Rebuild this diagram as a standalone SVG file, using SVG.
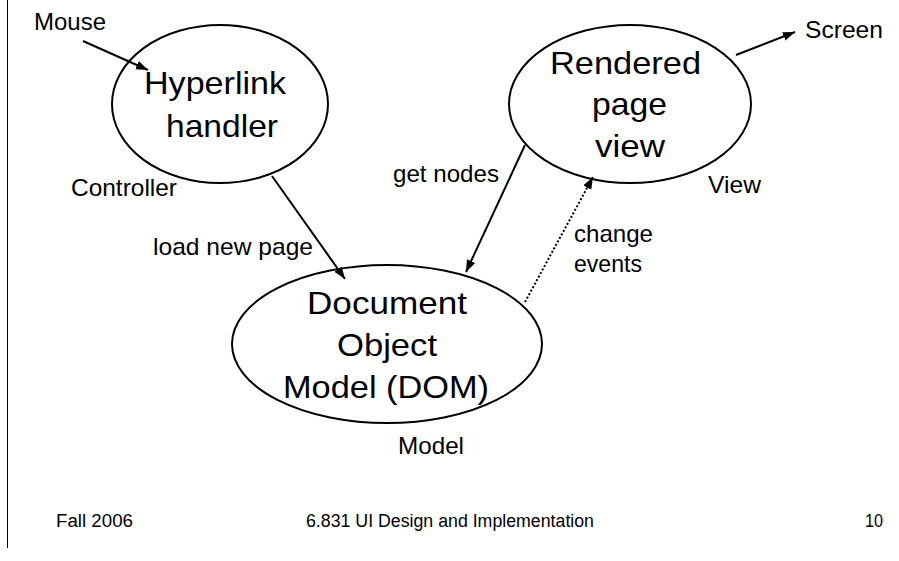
<svg xmlns="http://www.w3.org/2000/svg" width="899" height="561" viewBox="0 0 899 561">
<defs>
<style>
text{font-family:"Liberation Sans",Arial,Helvetica,sans-serif;fill:#000}
.big{font-size:32px}
.lbl{font-size:24px}
.ft{font-size:18px}
.shape{fill:#fff;stroke:#000;stroke-width:2}
.conn line{stroke:#000;stroke-width:2;fill:none}
.dot{stroke-dasharray:2 2}
</style>
<marker id="ah" markerUnits="userSpaceOnUse" markerWidth="13" markerHeight="10" refX="12" refY="4.5" orient="auto">
<path d="M0,0 L12,4.5 L0,9 z" fill="#000"/>
</marker>
</defs>
<rect width="899" height="561" fill="#fff"/>
<line x1="7.5" y1="0" x2="7.5" y2="548" stroke="#000" stroke-width="1"/>

<g id="hyperlink">
<ellipse class="shape" cx="220" cy="104" rx="108" ry="79"/>
<text class="big" x="144" y="94" textLength="142" lengthAdjust="spacingAndGlyphs">Hyperlink</text>
<text class="big" x="166" y="137" textLength="112" lengthAdjust="spacingAndGlyphs">handler</text>
</g>

<g id="rendered">
<ellipse class="shape" cx="630" cy="104" rx="121" ry="79"/>
<text class="big" x="550" y="74" textLength="151" lengthAdjust="spacingAndGlyphs">Rendered</text>
<text class="big" x="592" y="115" textLength="75" lengthAdjust="spacingAndGlyphs">page</text>
<text class="big" x="595" y="157" textLength="70" lengthAdjust="spacingAndGlyphs">view</text>
</g>

<g id="dom">
<ellipse class="shape" cx="387" cy="344" rx="155" ry="79"/>
<text class="big" x="307" y="314" textLength="160" lengthAdjust="spacingAndGlyphs">Document</text>
<text class="big" x="337" y="356" textLength="100" lengthAdjust="spacingAndGlyphs">Object</text>
<text class="big" x="283" y="398" textLength="206" lengthAdjust="spacingAndGlyphs">Model (DOM)</text>
</g>

<g id="connectors" class="conn">
<line x1="83" y1="41" x2="148" y2="70" marker-end="url(#ah)"/>
<line x1="272" y1="176" x2="345" y2="279" marker-end="url(#ah)"/>
<line x1="525" y1="145" x2="466" y2="272" marker-end="url(#ah)"/>
<line class="dot" x1="525" y1="302" x2="593" y2="177" marker-end="url(#ah)"/>
<line x1="736" y1="55" x2="795" y2="32" marker-end="url(#ah)"/>
</g>

<g id="labels">
<text class="lbl" x="34" y="30" textLength="72" lengthAdjust="spacingAndGlyphs">Mouse</text>
<text class="lbl" x="71" y="196" textLength="106" lengthAdjust="spacingAndGlyphs">Controller</text>
<text class="lbl" x="153" y="255" textLength="160" lengthAdjust="spacingAndGlyphs">load new page</text>
<text class="lbl" x="393" y="182" textLength="106" lengthAdjust="spacingAndGlyphs">get nodes</text>
<text class="lbl" x="574" y="242" textLength="79" lengthAdjust="spacingAndGlyphs">change</text>
<text class="lbl" x="574" y="272" textLength="68" lengthAdjust="spacingAndGlyphs">events</text>
<text class="lbl" x="805" y="38" textLength="78" lengthAdjust="spacingAndGlyphs">Screen</text>
<text class="lbl" x="708" y="193" textLength="53" lengthAdjust="spacingAndGlyphs">View</text>
<text class="lbl" x="398" y="454" textLength="66" lengthAdjust="spacingAndGlyphs">Model</text>
</g>

<g id="footer">
<text class="ft" x="56" y="527" textLength="77" lengthAdjust="spacingAndGlyphs">Fall 2006</text>
<text class="ft" x="306" y="527" textLength="288" lengthAdjust="spacingAndGlyphs">6.831 UI Design and Implementation</text>
<text class="ft" x="865" y="527" textLength="18" lengthAdjust="spacingAndGlyphs">10</text>
</g>
</svg>
